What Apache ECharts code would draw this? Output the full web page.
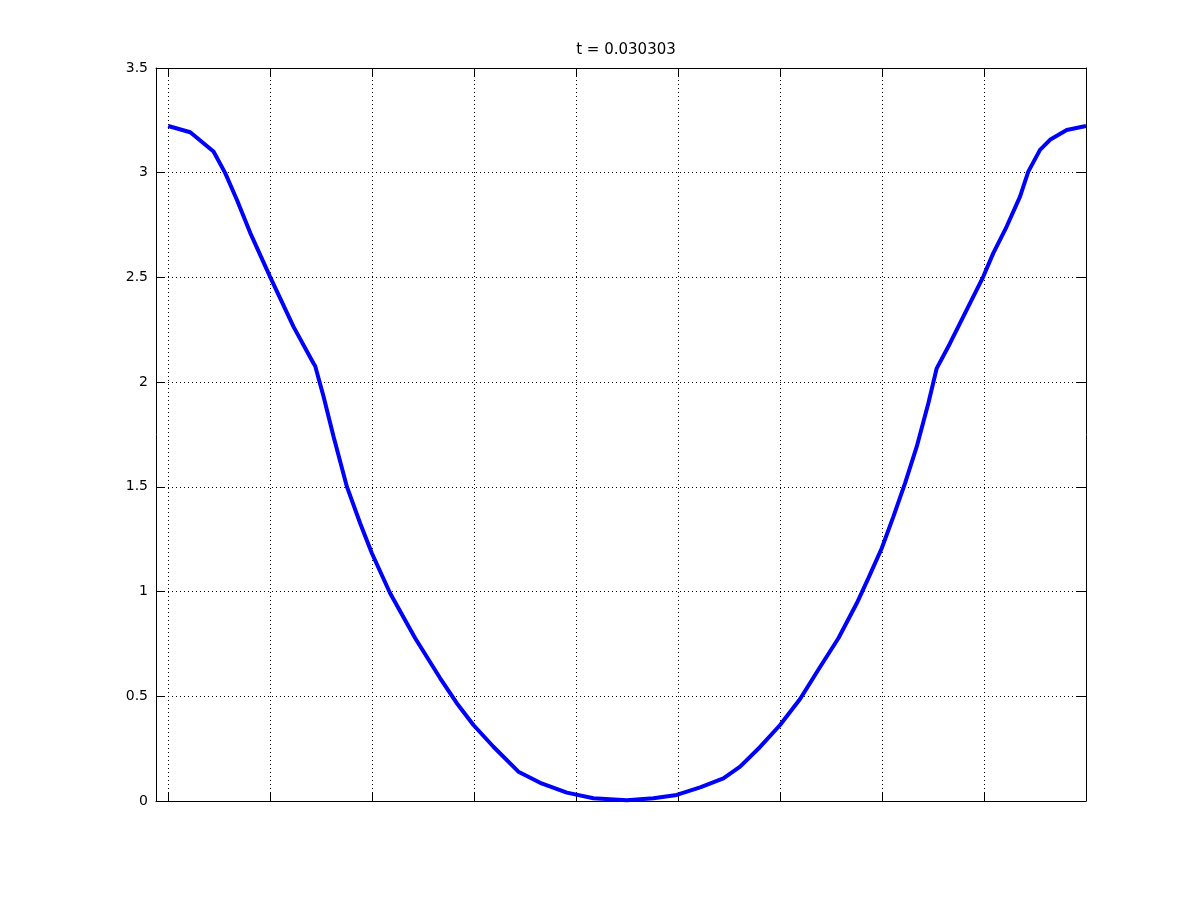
<!DOCTYPE html>
<html>
<head>
<meta charset="utf-8">
<script src="https://cdn.jsdelivr.net/npm/echarts@6/dist/echarts.min.js"></script>
<style>
html,body{margin:0;padding:0;background:#fff;}
#chart{width:1200px;height:900px;}
</style>
</head>
<body>
<div id="chart"></div>
<script>
var titleText = 't = 0.030303';
var xValues = [0, 0.216, 0.444, 0.559, 0.674, 0.804, 0.998, 1.228, 1.424, 1.441, 1.523, 1.621, 1.752, 1.882, 1.997, 2.176, 2.422, 2.667, 2.830, 2.993, 3.189, 3.434, 3.647, 3.909, 4.170, 4.497, 4.758, 4.987, 5.216, 5.444, 5.608, 5.804, 6.000, 6.196, 6.392, 6.572, 6.752, 6.866, 6.997, 7.111, 7.225, 7.340, 7.454, 7.536, 7.667, 7.863, 7.993, 8.091, 8.222, 8.353, 8.434, 8.549, 8.647, 8.811, 9];
var yValues = [3.223, 3.193, 3.101, 2.998, 2.870, 2.713, 2.504, 2.265, 2.090, 2.077, 1.931, 1.740, 1.501, 1.326, 1.183, 0.992, 0.777, 0.586, 0.467, 0.363, 0.259, 0.140, 0.087, 0.040, 0.013, 0.004, 0.013, 0.029, 0.065, 0.108, 0.164, 0.258, 0.363, 0.487, 0.640, 0.777, 0.944, 1.064, 1.207, 1.358, 1.517, 1.692, 1.899, 2.066, 2.186, 2.377, 2.504, 2.616, 2.743, 2.886, 3.005, 3.109, 3.157, 3.204, 3.223];
var xMin = -0.12, xMax = 9;
var yMin = 0, yMax = 3.5, yStep = 0.5;

var points = xValues.map(function (x, i) { return [x, yValues[i]]; });

var gridLine = { show: true, showMinLine: false, showMaxLine: false, lineStyle: { color: '#000', width: 1, type: [1, 3] } };
var axisLineStyle = { show: true, onZero: false, lineStyle: { color: '#000', width: 1 } };

var chart = echarts.init(document.getElementById('chart'), null, { renderer: 'canvas' });
chart.setOption({
  backgroundColor: '#fff',
  animation: false,
  title: {
    text: titleText,
    left: 621, textAlign: 'center',
    top: 38,
    textStyle: { fontFamily: 'DejaVu Sans', fontSize: 15, fontWeight: 'normal', color: '#000' }
  },
  grid: { left: 156, right: 114, top: 68, bottom: 99, containLabel: false },
  xAxis: [
    {
      type: 'value', position: 'bottom', min: xMin, max: xMax, splitNumber: 9,
      axisLine: axisLineStyle,
      axisTick: { show: true, inside: true, length: 9, lineStyle: { color: '#000', width: 1 } },
      axisLabel: { show: false },
      splitLine: gridLine
    },
    {
      type: 'value', position: 'top', min: xMin, max: xMax, splitNumber: 9,
      axisLine: axisLineStyle,
      axisTick: { show: true, inside: true, length: 9, lineStyle: { color: '#000', width: 1 } },
      axisLabel: { show: false },
      splitLine: { show: false }
    }
  ],
  yAxis: [
    {
      type: 'value', position: 'left', min: yMin, max: yMax, interval: yStep,
      axisLine: axisLineStyle,
      axisTick: { show: true, inside: true, length: 9, lineStyle: { color: '#000', width: 1 } },
      axisLabel: { show: true, margin: 8, color: '#000', fontFamily: 'DejaVu Sans', fontSize: 14 },
      splitLine: gridLine
    },
    {
      type: 'value', position: 'right', min: yMin, max: yMax, interval: yStep,
      axisLine: axisLineStyle,
      axisTick: { show: true, inside: true, length: 9, lineStyle: { color: '#000', width: 1 } },
      axisLabel: { show: false },
      splitLine: { show: false }
    }
  ],
  series: [{
    type: 'line',
    xAxisIndex: 0, yAxisIndex: 0,
    data: points,
    showSymbol: false,
    smooth: false,
    lineStyle: { color: '#0000ff', width: 4 },
    itemStyle: { color: '#0000ff' },
    z: 5
  }]
});
</script>
</body>
</html>
